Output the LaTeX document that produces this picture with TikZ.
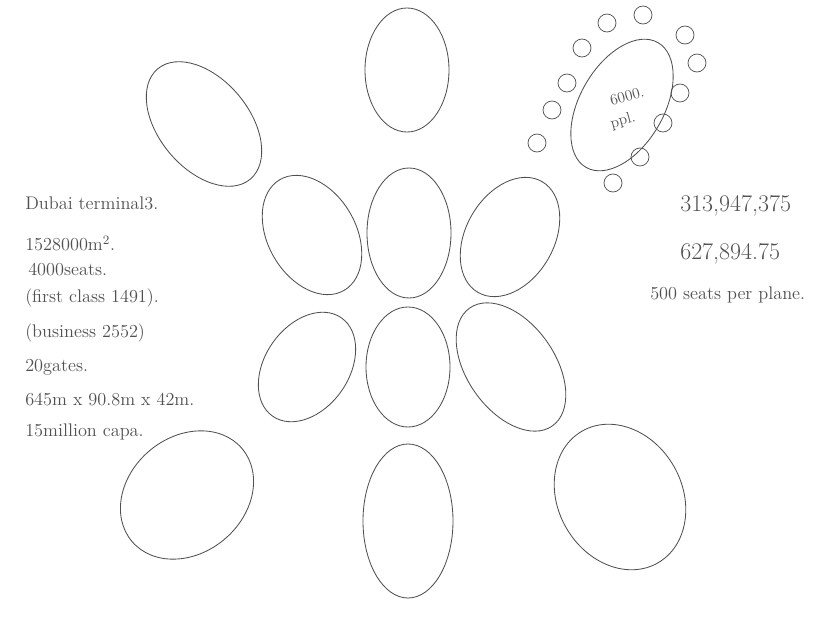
\documentclass[tikz,border=0pt]{standalone}
\usepackage{tikz}
\usepackage{xcolor}
\definecolor{pencil}{HTML}{505050}
\definecolor{paper}{HTML}{FFFFFF}

\begin{document}
\begin{tikzpicture}[x=0.025cm, y=-0.025cm,
      gate/.style={draw=pencil, line width=0.6pt},
      seat/.style={draw=pencil, line width=0.5pt},
      notestyle/.style={anchor=west, inner sep=0pt, text=pencil, font=\fontsize{13}{15}\selectfont},
      numstyle/.style={anchor=west, inner sep=0pt, text=pencil, font=\fontsize{17}{19}\selectfont},
      planestyle/.style={inner sep=0pt, text=pencil, font=\fontsize{11}{12}\selectfont, rotate=15}]

      % Canvas
      \fill[paper] (0,0) rectangle (825,624);
      \useasboundingbox (0,0) rectangle (825,624);

      % --- Top row of gates ---
      \draw[gate, rotate around={40:(204,124)}] (204,124) ellipse [x radius=45, y radius=72];
      \draw[gate] (407,70) ellipse [x radius=42, y radius=62];

      % --- Plane with seats (top right) ---
      \draw[gate, rotate around={-30:(622,105)}] (622,105) ellipse [x radius=42, y radius=72];
      \node[planestyle] (cap) at (627,96) {6000.};
      \node[planestyle] (ppl) at (623,121) {ppl.};

      \draw[seat] (643,15) circle [radius=9];
      \draw[seat] (607,23) circle [radius=9];
      \draw[seat] (685,35) circle [radius=9];
      \draw[seat] (582,48) circle [radius=9];
      \draw[seat] (697,63) circle [radius=9];
      \draw[seat] (567,83) circle [radius=9];
      \draw[seat] (680,93) circle [radius=9];
      \draw[seat] (552,110) circle [radius=9];
      \draw[seat] (663,123) circle [radius=9];
      \draw[seat] (537,143) circle [radius=9];
      \draw[seat] (640,157) circle [radius=9];
      \draw[seat] (613,183) circle [radius=9];

      % --- Middle rows of gates ---
      \draw[gate, rotate around={30:(312,235)}] (312,235) ellipse [x radius=44, y radius=64];
      \draw[gate] (409,233) ellipse [x radius=42, y radius=65];
      \draw[gate, rotate around={-30:(510,237)}] (510,237) ellipse [x radius=44, y radius=64];

      \draw[gate, rotate around={-35:(307,367)}] (307,367) ellipse [x radius=42, y radius=60];
      \draw[gate] (408,367) ellipse [x radius=42, y radius=60];
      \draw[gate, rotate around={35:(511,367)}] (511,367) ellipse [x radius=44, y radius=72];

      % --- Bottom row of gates ---
      \draw[gate, rotate around={40:(187,495)}] (187,495) ellipse [x radius=72, y radius=58];
      \draw[gate] (408,521) ellipse [x radius=45, y radius=77];
      \draw[gate, rotate around={30:(620,497)}] (620,497) ellipse [x radius=62, y radius=76];

      % --- Terminal notes (left) ---
      \node[notestyle] (title) at (25,203) {Dubai terminal3.};
      \node[notestyle] (area) at (25,243) {1528000m\textsuperscript{2}.};
      \node[notestyle] (seats) at (28,270) {4000seats.};
      \node[notestyle] (first) at (25,298) {(first class 1491).};
      \node[notestyle] (business) at (25,333) {(business 2552)};
      \node[notestyle] (gates) at (25,367) {20gates.};
      \node[notestyle] (size) at (25,400) {645m x 90.8m x 42m.};
      \node[notestyle] (capa) at (25,432) {15million capa.};

      % --- Sums (right) ---
      \node[numstyle] (sumA) at (680,206) {313,947,375};
      \node[numstyle] (sumB) at (680,254) {627,894.75};
      \node[notestyle] (perplane) at (650,295) {500 seats per plane.};

    \end{tikzpicture}
\end{document}
